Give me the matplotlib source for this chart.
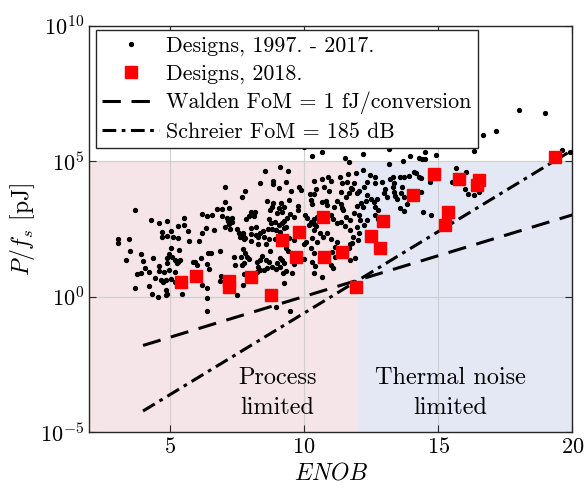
import numpy as np
import matplotlib
matplotlib.use("Agg")
import matplotlib.pyplot as plt
from matplotlib.lines import Line2D

plt.rcParams['font.family'] = ['cmr10', 'DejaVu Serif']
plt.rcParams['mathtext.fontset'] = 'cm'
plt.rcParams['axes.unicode_minus'] = False
plt.rcParams['axes.formatter.use_mathtext'] = True

# designs 1997 - 2017 : ENOB and log10(P/fs in pJ)
enob_old = [
    3.71, 4.29, 4.60, 4.88, 5.53, 6.21, 6.38, 5.30, 5.54, 4.70, 5.03, 5.67, 6.36, 4.72, 4.89,
    5.12, 5.31, 5.70, 6.10, 6.20, 3.05, 3.05, 3.47, 5.04, 5.34, 3.52, 3.91, 4.97, 5.09, 5.20,
    5.30, 5.39, 5.26, 4.38, 4.91, 5.86, 6.00, 6.37, 6.43, 6.17, 3.38, 4.01, 4.58, 4.89, 4.06,
    4.59, 4.77, 4.98, 5.21, 4.22, 3.79, 3.91, 4.45, 4.68, 4.73, 4.87, 5.04, 5.21, 4.23, 3.70,
    4.87, 4.32, 4.56, 4.84, 4.90, 5.47, 6.21, 6.38, 6.40, 6.37, 6.46, 7.13, 7.33, 7.85, 7.06,
    7.23, 7.50, 7.71, 7.63, 7.75, 6.63, 6.87, 6.54, 7.39, 7.65, 7.78, 7.88, 5.95, 7.75, 6.92,
    6.86, 7.74, 7.51, 9.09, 8.53, 8.36, 8.83, 8.86, 9.08, 7.04, 7.80, 7.70, 7.07, 8.62, 8.85,
    9.15, 8.82, 9.08, 8.72, 7.21, 6.96, 6.76, 6.56, 6.93, 8.03, 8.19, 7.95, 8.15, 8.99, 8.71,
    8.76, 8.90, 9.07, 9.24, 9.24, 9.12, 8.97, 8.81, 8.65, 8.47, 8.37, 8.29, 8.50, 7.15, 7.32,
    7.22, 7.56, 7.74, 7.81, 8.01, 8.21, 8.03, 8.21, 8.01, 8.27, 8.70, 8.60, 8.93, 7.74, 8.74,
    7.79, 7.93, 8.44, 8.37, 8.25, 8.57, 8.68, 9.12, 9.18, 9.01, 7.41, 7.70, 8.27, 8.35, 8.50,
    8.62, 8.81, 8.94, 9.12, 8.25, 9.21, 8.96, 10.00, 10.29, 10.68, 11.68, 11.52, 9.39, 10.36, 10.68,
    10.74, 10.46, 9.33, 11.33, 11.43, 11.61, 11.76, 9.80, 9.89, 9.50, 10.21, 10.36, 10.94, 11.36, 11.56,
    11.66, 9.44, 10.24, 10.30, 10.65, 10.80, 10.86, 11.24, 11.36, 11.41, 11.11, 11.46, 9.79, 9.78, 9.24,
    9.18, 9.49, 9.62, 9.37, 10.05, 10.12, 10.24, 10.36, 10.49, 10.36, 10.18, 10.46, 10.99, 11.09, 11.21,
    11.36, 11.56, 11.73, 11.54, 11.73, 11.83, 9.18, 9.31, 10.36, 10.61, 10.86, 10.99, 10.71, 10.30, 10.49,
    9.44, 9.62, 9.99, 10.08, 11.24, 11.17, 11.05, 11.73, 11.67, 9.31, 9.39, 10.24, 10.36, 9.24, 9.64,
    9.56, 9.31, 9.99, 10.30, 10.39, 10.36, 10.99, 11.07, 11.17, 11.73, 10.68, 9.24, 9.47, 12.19, 13.18,
    13.18, 13.68, 14.29, 12.18, 12.45, 12.66, 12.64, 12.33, 12.23, 12.89, 13.20, 13.32, 13.57, 13.72, 13.91,
    14.09, 14.28, 13.35, 13.33, 13.35, 13.37, 13.66, 13.60, 13.72, 13.03, 12.97, 11.85, 11.79, 11.96, 12.04,
    12.35, 12.48, 12.29, 12.60, 12.73, 13.10, 13.47, 12.11, 12.21, 11.98, 12.66, 12.75, 12.66, 12.75, 13.57,
    13.72, 13.82, 11.85, 12.04, 12.10, 12.33, 12.25, 11.96, 12.04, 12.00, 11.88, 11.79, 17.99, 18.98, 16.67,
    17.15, 16.32, 14.50, 14.38, 14.50, 14.93, 19.60, 19.89, 15.65, 16.03, 15.53, 15.99, 16.09, 16.33, 16.50,
    14.34, 14.18, 14.68, 14.43, 14.72, 13.95, 14.34, 10.89, 10.99, 11.63, 11.92,
]
logp_old = [
    3.20, 2.83, 2.71, 2.81, 2.92, 3.07, 2.98, 2.61, 2.64, 2.40, 2.43, 2.44, 2.55, 2.22, 2.25,
    2.20, 2.16, 2.06, 2.06, 2.34, 2.13, 1.99, 2.12, 1.81, 1.74, 1.70, 1.59, 1.58, 1.47, 1.36,
    1.30, 1.36, 1.24, 1.44, 1.42, 1.30, 1.16, 1.21, 1.63, 1.43, 1.35, 1.31, 1.14, 1.24, 1.07,
    0.96, 0.90, 0.99, 0.90, 0.90, 0.84, 0.87, 0.68, 0.62, 0.56, 0.61, 0.66, 0.56, 0.40, 0.31,
    0.24, 0.09, -0.01, 0.07, 0.09, 0.09, 0.44, 0.34, -0.04, -0.51, 1.03, 2.90, 2.90, 2.86, 2.58,
    2.51, 2.51, 2.37, 2.20, 2.12, 2.48, 1.70, 1.63, 1.48, 1.46, 1.24, 1.48, 1.27, 0.84, 0.77,
    0.58, 0.45, 0.06, 4.79, 4.64, 4.19, 4.27, 4.15, 4.03, 4.05, 3.89, 3.69, 3.50, 3.52, 3.47,
    3.45, 3.30, 3.27, 3.20, 3.28, 3.25, 3.23, 3.02, 2.98, 3.13, 3.13, 2.98, 2.98, 3.08, 2.86,
    2.71, 2.77, 2.65, 2.80, 2.55, 2.40, 2.47, 2.51, 2.51, 2.43, 2.37, 2.20, 2.20, 2.81, 2.76,
    2.69, 2.35, 2.27, 2.17, 2.54, 2.56, 2.31, 2.28, 2.05, 1.95, 2.12, 1.94, 2.12, 1.77, 1.69,
    1.61, 1.39, 1.51, 1.36, 1.27, 1.36, 1.27, 1.42, 1.36, 1.24, 1.16, 1.16, 1.09, 0.99, 0.99,
    1.05, 1.09, 1.03, 1.09, 0.93, 0.87, -0.37, 5.52, 5.21, 5.34, 4.97, 5.12, 4.65, 4.26, 4.34,
    4.06, 3.97, 4.24, 4.43, 4.21, 4.25, 4.00, 4.06, 3.94, 3.90, 3.79, 3.79, 3.89, 3.87, 3.69,
    3.82, 3.57, 3.56, 3.42, 3.49, 3.55, 3.40, 3.52, 3.42, 3.29, 3.32, 3.20, 3.35, 3.20, 3.30,
    3.14, 3.04, 2.94, 2.90, 3.01, 2.90, 2.77, 2.86, 2.96, 2.69, 2.65, 2.61, 3.02, 2.86, 2.71,
    2.77, 2.93, 2.83, 2.61, 2.46, 2.22, 2.73, 2.59, 2.46, 2.37, 2.34, 2.12, 2.22, 2.16, 2.03,
    2.16, 2.10, 1.95, 2.03, 2.03, 1.85, 1.66, 1.95, 1.79, 1.79, 1.69, 1.81, 1.61, 1.24, 1.20,
    0.89, 0.96, 1.38, 1.30, 1.15, 0.87, 1.17, 1.05, 1.48, 1.36, 0.74, 0.50, -0.51, 5.27, 5.44,
    4.90, 5.02, 5.11, 4.68, 4.48, 4.41, 4.19, 4.25, 4.06, 4.23, 4.34, 4.43, 4.43, 4.41, 4.46,
    4.62, 4.43, 4.21, 4.04, 3.88, 3.72, 4.04, 3.82, 3.69, 3.97, 3.82, 4.19, 3.97, 3.82, 3.92,
    3.76, 3.60, 3.55, 3.51, 3.60, 3.69, 3.60, 3.47, 3.32, 3.35, 3.32, 3.20, 3.02, 2.87, 3.27,
    3.18, 3.42, 3.08, 3.02, 2.83, 2.83, 2.65, 2.59, 2.34, 2.10, 1.42, 1.97, 6.89, 6.79, 5.97,
    6.13, 5.37, 5.34, 5.07, 5.07, 5.22, 5.42, 5.35, 4.76, 4.62, 4.25, 3.98, 3.78, 3.76, 3.88,
    4.37, 4.56, 4.25, 3.14, 3.01, 5.20, 3.88, 4.43, 4.28, 4.53, 4.56,
]

# designs 2018
enob_2018 = [5.42, 5.99, 7.22, 7.22, 8.04, 8.78, 9.18, 9.80, 9.70, 10.69, 10.76, 11.43,
             11.93, 12.50, 12.95, 12.84, 14.85, 14.07, 15.76, 16.53, 16.43, 15.36, 15.25, 19.34]
logp_2018 = [0.55, 0.77, 0.60, 0.35, 0.73, 0.07, 2.10, 2.38, 1.48, 2.93, 1.48, 1.65,
             0.37, 2.25, 2.81, 1.81, 4.53, 3.76, 4.36, 4.31, 4.13, 3.14, 2.64, 5.15]

# FoM lines (end points)
enob_line = [4, 20]
walden_pj = [1.6e-2, 1.05e3]
schreier_pj = [6.1e-5, 2.6e5]

process_span = (2, 12)
thermal_span = (12, 20)
region_bottom, region_top = 1e-5, 1e5

fig = plt.figure(figsize=(5.85, 4.96), dpi=100)
ax = fig.add_axes([0.1527, 0.1284, 0.8259, 0.8198])

ax.fill_between(process_span, region_bottom, region_top, color='#f5e4e8', lw=0, zorder=0)
ax.fill_between(thermal_span, region_bottom, region_top, color='#e4e8f5', lw=0, zorder=0)

ax.plot(enob_old, 10 ** np.array(logp_old), 'o', color='black', ms=2.8, zorder=3)
ax.plot(enob_2018, 10 ** np.array(logp_2018), 's', color='#ff0000', ms=8.5, zorder=4)
ax.plot(enob_line, walden_pj, color='black', lw=2.2, dashes=(6, 3.5), zorder=3)
ax.plot(enob_line, schreier_pj, color='black', lw=2.2, dashes=(4.5, 1.8, 1.2, 1.8), zorder=3)

ax.text(9.0, 10 ** -3.55, 'Process\nlimited', ha='center', va='center', fontsize=17.5,
        linespacing=1.5)
ax.text(15.45, 10 ** -3.55, 'Thermal noise\nlimited', ha='center', va='center', fontsize=17.5,
        linespacing=1.5)

ax.set_yscale('log')
ax.set_xlim(2, 20)
ax.set_ylim(1e-5, 1e10)
ax.set_xticks([5, 10, 15, 20])
ax.set_yticks([1e-5, 1e0, 1e5, 1e10])
ax.minorticks_off()
ax.set_axisbelow(True)
ax.grid(True, color='#cfcfcf', lw=0.8)
ax.tick_params(direction='in', top=True, right=True, length=5, width=0.8, labelsize=16,
               color='#262626')
for s in ax.spines.values():
    s.set_color('#262626')
    s.set_linewidth(1.0)

ax.set_xlabel('$ENOB$', fontsize=17, labelpad=4)
ax.set_ylabel('$P/f_s$ [pJ]', fontsize=17, labelpad=2)

handles = [
    Line2D([], [], marker='o', ls='none', color='black', ms=2.8),
    Line2D([], [], marker='s', ls='none', color='#ff0000', ms=8.5),
    Line2D([], [], color='black', lw=2.2, dashes=(6, 3.5)),
    Line2D([], [], color='black', lw=2.2, dashes=(4.5, 1.8, 1.2, 1.8)),
]
labels = ['Designs, 1997. - 2017.', 'Designs, 2018.',
          'Walden FoM = 1 fJ/conversion', 'Schreier FoM = 185 dB']
leg = ax.legend(handles, labels, loc='upper left', bbox_to_anchor=(0.013, 0.99),
                borderaxespad=0, fontsize=15.8, fancybox=False, framealpha=1,
                edgecolor='#262626', handlelength=2.6, handletextpad=0.3,
                labelspacing=0.36, borderpad=0.3)
leg.get_frame().set_linewidth(1.0)

fig.savefig('out.png', dpi=100)
